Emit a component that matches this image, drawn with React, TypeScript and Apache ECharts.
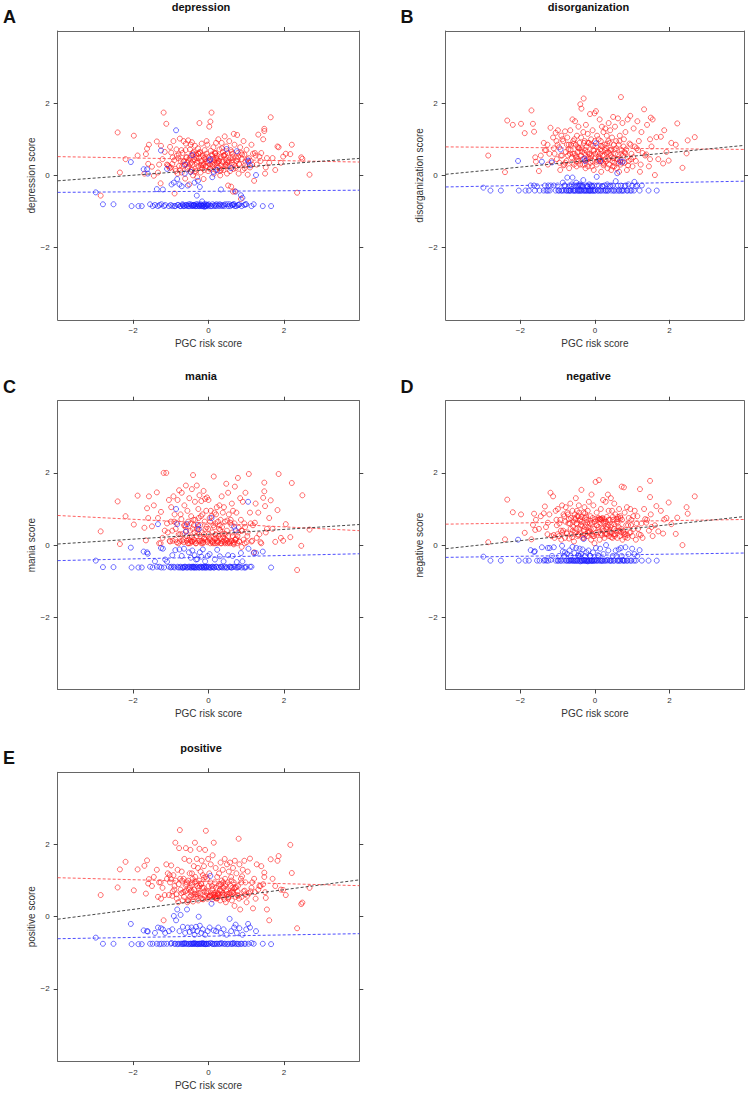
import React, { useEffect, useRef } from "react";
import * as echarts from "echarts";

// PGC risk score of the subjects drawn in red (same subjects in every panel)
const redX = [
  -2.86, -2.41, -2.35, -2.20, -1.98, -1.88, -1.70, -1.66, -1.63, -1.58, 2.68, 2.49, 2.46, 2.35, 2.21, 2.17, 1.98, 1.86, 1.83, 1.77,
  -1.50, -1.45, -1.37, -1.34, -1.27, -1.26, -1.19, -1.12, -1.08, -1.05, 1.65, 1.61, 1.55, 1.50, 1.48, 1.48, 1.45, 1.40, 1.32, 1.28,
  -1.02, -0.99, -0.96, -0.93, -0.90, -0.88, -0.85, -0.82, -0.80, -0.78, 1.25, 1.21, 1.18, 1.14, 1.10, 1.07, 1.04, 1.01, 0.98, 0.95,
  -0.76, -0.74, -0.71, -0.69, -0.66, -0.64, -0.62, -0.60, -0.58, -0.56, 0.93, 0.91, 0.88, 0.86, 0.84, 0.82, 0.80, 0.78, 0.76, 0.74,
  -0.54, -0.53, -0.51, -0.49, -0.48, -0.46, -0.44, -0.43, -0.41, -0.39, 0.72, 0.70, 0.69, 0.67, 0.65, 0.64, 0.62, 0.60, 0.59, 0.57,
  -0.38, -0.36, -0.35, -0.33, -0.31, -0.30, -0.28, -0.27, -0.25, -0.24, 0.55, 0.54, 0.52, 0.51, 0.49, 0.47, 0.46, 0.44, 0.43, 0.41,
  -0.22, -0.21, -0.19, -0.18, -0.16, -0.15, -0.13, -0.12, -0.10, -0.09, 0.40, 0.38, 0.37, 0.35, 0.34, 0.32, 0.31, 0.29, 0.28, 0.26,
  -0.07, -0.06, -0.04, -0.03, -0.01, 0.00, 0.02, 0.03, 0.05, 0.06, 0.25, 0.23, 0.22, 0.20, 0.19, 0.17, 0.16, 0.14, 0.13, 0.11,
  -1.10, -0.95, -0.87, -0.72, -0.57, -0.47, -0.37, -0.26, -0.17, -0.05, 0.08, 0.10, 0.18, 0.27, 0.36, 0.45, 0.58, 0.71, 0.87, 1.12,
  -1.22, -1.00, -0.79, -0.65, -0.52, -0.42, -0.32, -0.20, -0.11, 0.01, 0.09, 0.15, 0.21, 0.30, 0.39, 0.50, 0.63, 0.77, 0.97, 1.35,
  -1.31, -1.16, -1.03, -0.91, -0.84, -0.75, -0.67, -0.61, -0.55, -0.50, -0.45, -0.40, -0.34, -0.29, -0.23, -0.14, -0.08, 0.04, 0.12, 0.18,
  0.24, 0.33, 0.42, 0.48, 0.53, 0.61, 0.66, 0.73, 0.81, 0.89, 0.96, 1.03, 1.16, 1.23, 1.38, 1.52, 1.70, 1.92, 2.05, -1.60,
  -0.70, -0.59, -0.49, -0.44, -0.36, -0.27, -0.19, -0.12, -0.02, 0.04, 0.10, 0.17, 0.23, 0.31, 0.37, 0.44, 0.52, 0.62, 0.68, 0.79,
];

// PGC risk score of the subjects drawn in blue
const blueX = [
  -2.99, -2.80, -2.52, -2.06, -2.04, -1.86, -1.77, -1.72, -1.63, -1.61, -1.55, -1.42, -1.37, -1.34, -1.26, -1.25, -1.21, -1.15, -1.10, -1.05,
  -1.00, -0.96, -0.92, -0.88, -0.86, -0.83, -0.80, -0.77, -0.74, -0.71, -0.68, -0.65, -0.62, -0.60, -0.57, -0.55, -0.52, -0.50, -0.47, -0.45,
  -0.43, -0.41, -0.39, -0.37, -0.35, -0.33, -0.31, -0.30, -0.28, -0.26, -0.24, -0.23, -0.21, -0.19, -0.17, -0.15, -0.13, -0.11, -0.09, -0.07,
  -0.05, -0.02, 0.00, 0.03, 0.05, 0.08, 0.11, 0.14, 0.17, 0.20, 0.23, 0.26, 0.30, 0.33, 0.36, 0.40, 0.44, 0.48, 0.52, 0.56,
  0.60, 0.64, 0.68, 0.70, 0.72, 0.75, 0.78, 0.82, 0.86, 0.90, 0.95, 1.00, 1.05, 1.06, 1.10, 1.20, 1.26, 1.44, 1.66, -0.40,
  -1.48, -1.30, -1.18, -0.98, -0.90, -0.82, -0.75, -0.69, -0.63, -0.58, -0.53, -0.48, -0.44, -0.38, -0.34, -0.29, -0.25, -0.20, -0.16, -0.12,
  -0.08, -0.04, 0.01, 0.06, 0.10, 0.15, 0.21, 0.28, 0.34, 0.42, 0.50, 0.58, 0.62, 0.66, 0.74, 0.80, 0.88, 0.98, 1.14, -0.66,
];

const depressionRed = [
  -0.56, 1.19, 0.08, 0.45, 1.10, 0.55, 0.05, 0.59, 0.74, 0.85, 0.02, 0.46, 0.50, -0.48, 0.85, 0.59, 0.52, 0.78, 0.80, 0.15,
  0.24, -0.01, 0.94, 0.08, -0.22, 0.82, 1.74, 1.43, 0.28, 0.25, 1.61, 0.35, 0.48, 0.05, 1.29, 1.23, 1.00, 0.62, 1.13, 0.30,
  0.79, 0.63, 0.32, 0.95, -0.50, 0.18, 0.72, 0.05, 0.48, 0.26, 0.55, -0.15, 0.60, 0.85, 0.22, 0.48, 0.02, 0.71, 0.38, 0.58,
  1.02, 0.40, 0.08, 0.62, 0.95, 0.28, -0.09, 0.88, 0.50, 0.18, 0.95, 0.15, 0.45, -0.65, 0.78, 0.30, 0.05, 0.62, 1.12, 0.40,
  0.97, 0.42, -0.25, 0.72, 0.10, 0.55, 0.92, 0.30, 0.00, 0.65, 0.20, -0.44, 0.85, 1.15, -0.45, 0.50, 0.35, -0.31, 0.70, 0.12,
  0.45, 0.82, 0.18, 0.58, 0.35, -0.05, 0.75, 0.25, 0.48, 1.45, 0.95, 0.38, -0.28, 0.62, 0.05, 0.80, 0.42, 0.25, 1.08, 0.55,
  0.62, 0.08, 0.40, 0.88, 0.20, 0.55, -0.10, 0.32, 0.70, 0.45, 0.15, 0.65, 0.38, 0.90, 0.28, 0.52, 0.00, 0.72, 0.40, 1.00,
  0.25, 0.60, 0.38, 0.85, 0.12, 0.50, 1.35, 0.30, 1.49, 0.68, 0.22, 0.55, 0.35, 0.90, 0.15, 0.62, 0.42, 0.05, 0.78, 0.30,
  0.30, 0.50, 0.12, 0.70, 0.35, 0.85, 0.10, 0.60, 0.30, 0.95, 1.74, 0.25, 0.60, 0.40, 0.75, 0.30, 0.48, 0.25, 0.62, 0.40,
  0.45, 0.22, 0.58, 0.40, 0.25, 0.62, 0.48, 0.28, 0.15, 0.40, 0.58, 0.35, 0.48, 0.20, 0.55, 0.35, 0.60, 0.45, 0.28, 0.52,
  0.30, 0.65, 0.20, 0.42, 0.55, 0.15, 0.38, 0.70, 0.22, 0.48, 0.35, 0.58, 0.12, 0.40, 0.65, 0.28, 0.52, 0.18, 0.45, 0.62,
  0.35, 0.15, 0.55, 0.28, 0.42, 0.65, 0.18, 0.50, 0.32, 0.58, 0.20, 0.45, 0.30, 0.62, 0.40, 0.22, 0.48, 0.35, 0.60, 0.32,
  0.25, 0.50, 0.32, 0.15, 0.42, 0.60, 0.22, 0.48, 0.35, 0.20, 0.55, 0.30, 0.45, 0.12, 0.38, 0.58, 0.25, 0.42, 0.30, 0.52,
];
const disorganizationRed = [
  0.55, 0.09, 1.52, 1.40, 1.43, 1.17, 1.80, 1.43, 1.21, 0.38, 1.06, 0.97, 0.61, 0.21, 1.44, 0.85, 0.41, 1.25, 0.33, 1.07,
  0.12, 0.55, 0.90, 0.70, 0.85, 0.30, 1.32, 1.05, 0.60, 1.18, 1.06, 0.01, 1.55, 1.60, 0.45, 1.00, 0.25, 1.40, 1.83, 0.62,
  0.45, 1.25, 0.78, 0.15, 1.10, 0.55, 0.95, 0.30, 1.22, 0.65, 1.20, 0.10, 0.95, 1.50, 0.40, 0.80, 1.30, 0.25, 0.60, 1.65,
  0.40, 1.05, 0.72, 0.20, 1.25, 0.85, 0.50, 1.55, 0.95, 0.30, 0.88, 0.40, 1.55, 0.15, 0.72, 1.20, 0.35, 1.00, 0.55, 1.45,
  0.60, 1.50, 0.85, 0.25, 1.10, 0.65, 1.35, 0.40, 0.90, 1.97, 0.70, 2.17, 0.30, 1.10, 0.10, 0.85, 1.58, 0.45, 0.20, 0.95,
  0.55, 1.85, 0.75, 0.30, 1.20, 2.13, 0.62, 0.95, 0.20, 1.40, 0.60, 1.35, 0.25, 0.85, 1.62, 0.40, 1.05, 0.15, 0.70, 1.25,
  0.80, 0.45, 1.15, 0.25, 0.90, 0.60, 1.70, 0.35, 1.00, 0.55, 0.90, 0.30, 1.45, 0.65, 0.20, 1.10, 0.75, 0.45, 1.30, 0.85,
  0.40, 1.25, 0.70, 0.15, 1.72, 0.95, 0.50, 1.78, 0.30, 1.10, 0.55, 1.20, 0.35, 0.80, 1.35, 0.10, 0.95, 0.60, 1.55, 0.45,
  0.75, 0.35, 1.00, 0.55, 0.88, 0.45, 1.05, 0.70, 0.50, 0.82, 0.65, 1.00, 0.40, 0.70, 0.95, 0.50, 0.75, 0.60, 0.50, 0.75,
  0.60, 0.85, 0.35, 0.70, 0.55, 0.75, 0.45, 0.65, 0.85, 0.60, 0.40, 0.72, 0.55, 0.38, 0.62, 0.48, 0.35, 0.80, 0.45, 0.55,
  0.70, 0.40, 0.95, 0.55, 0.28, 0.85, 0.60, 0.35, 1.00, 0.50, 0.78, 0.30, 0.65, 0.90, 0.42, 0.58, 0.25, 0.80, 0.48, 0.68,
  0.32, 0.88, 0.55, 0.25, 0.72, 0.45, 0.95, 0.35, 0.62, 0.28, 0.85, 0.50, 0.70, 0.30, 0.58, 0.80, 0.45, 0.65, 0.90, 0.50,
  0.85, 0.60, 0.40, 0.75, 0.55, 0.30, 0.90, 0.48, 0.68, 0.38, 0.52, 0.82, 0.28, 0.62, 0.45, 0.72, 0.35, 0.58, 0.42, 0.65,
];
const maniaRed = [
  0.38, 1.21, 0.03, 0.80, 0.57, 1.37, 0.48, 0.13, 1.02, 1.35, 0.43, 1.38, -0.02, -0.69, 1.72, 0.22, 0.12, 1.97, 0.97, 0.09,
  0.52, 1.10, 1.46, 0.75, 0.05, 0.92, 2.00, 2.00, 0.35, 1.25, 1.24, 0.75, 0.45, 1.08, 1.73, 1.49, 1.31, 0.05, 0.90, 0.20,
  0.10, 1.05, 0.40, 1.35, 0.85, 0.15, 0.62, 1.25, 0.05, 1.52, 1.15, -0.20, 0.55, 0.10, 0.90, 1.97, 0.35, 0.08, 1.45, 0.60,
  0.10, 0.85, 1.45, 0.30, 0.08, 1.10, 0.55, 1.65, 0.12, 0.95, 0.15, 1.20, -0.05, 0.70, 1.30, 0.10, 0.48, 1.86, 0.05, 0.90,
  0.65, 0.05, 1.30, 0.40, 0.12, 0.80, 1.55, 0.10, 1.94, 0.55, 0.15, 1.62, 0.60, 0.02, 0.95, 0.25, 1.15, 0.10, 0.70, 0.05,
  0.15, 1.20, 0.70, 0.05, 1.65, 0.45, 0.12, 1.00, 0.30, 1.38, 0.10, 0.85, 1.45, 0.05, 0.40, 1.70, 0.15, 0.65, 0.08, 1.05,
  0.55, 0.10, 1.22, 0.35, 0.85, 0.05, 1.50, 0.20, 0.65, 1.28, 0.12, 0.90, 0.30, 1.35, 0.05, 0.70, 0.18, 1.10, 0.45, 0.08,
  0.15, 0.95, 1.32, 0.08, 0.45, 1.25, 0.20, 0.75, 0.05, 0.95, 0.65, 0.12, 1.05, 0.85, 0.30, 0.05, 0.90, 1.90, 0.55, 0.10,
  0.60, 0.12, 0.45, 0.72, 0.25, 0.60, 0.35, 0.75, 0.12, 0.50, 0.80, 0.35, 0.60, 0.25, 0.50, 0.30, 0.62, 0.15, 0.40, 0.60,
  0.20, 0.65, 0.30, 0.55, 0.15, 0.45, 0.25, 0.80, 0.18, 0.30, 0.12, 0.50, 0.20, 0.55, 0.22, 0.68, 0.35, 0.25, 0.50, 0.30,
  0.05, 0.40, 0.12, 0.65, 0.08, 0.30, 0.15, 0.50, 0.05, 0.22, 0.10, 0.70, 0.05, 0.35, 0.12, 0.08, 0.45, 0.15, 0.05, 0.28,
  0.10, 0.05, 0.32, 0.12, 0.08, 0.55, 0.05, 0.18, 0.10, 0.40, 0.05, 0.25, 0.12, 0.62, 0.08, 0.35, 0.45, 0.20, 0.58, 0.75,
  0.12, 0.40, 0.05, 0.22, 0.10, 0.52, 0.05, 0.30, 0.12, 0.65, 0.08, 0.18, 0.05, 0.42, 0.10, 0.05, 0.25, 0.12, 0.08, 0.35,
];
const negativeRed = [
  0.08, 0.16, 1.26, 0.91, 0.85, 0.34, 0.16, 0.56, 0.87, 0.70, 1.35, 0.87, 1.05, 0.00, 0.76, 0.31, 1.18, 0.71, 0.32, 0.95,
  0.45, 0.80, 0.88, 1.07, 0.30, 0.62, 1.45, 1.35, 0.20, 0.95, 1.08, 0.55, 0.25, 0.85, 1.78, 1.33, 0.40, 0.70, 1.00, 0.20,
  0.55, 1.00, 0.25, 0.70, 0.15, 1.10, 0.40, 0.80, 0.20, 1.05, 0.60, 1.55, 0.30, 0.80, 0.15, 0.95, 0.45, 0.25, 0.70, 1.00,
  0.35, 0.90, 0.60, 0.18, 1.15, 0.75, 0.30, 0.95, 0.50, 0.10, 0.35, 0.75, 0.20, 1.05, 0.55, 0.30, 0.90, 1.60, 0.40, 0.15,
  0.85, 0.35, 1.30, 0.60, 0.95, 0.25, 0.80, 1.10, 0.45, 0.72, 1.62, 0.35, 0.75, 0.25, 1.00, 0.50, 0.78, 0.20, 0.65, 0.40,
  0.35, 1.53, 0.65, 0.20, 0.90, 0.40, 1.05, 0.75, 0.30, 0.55, 0.85, 0.30, 1.15, 0.45, 0.70, 0.20, 0.95, 0.55, 1.30, 0.35,
  0.70, 0.25, 0.95, 0.50, 1.20, 0.35, 0.60, 0.80, 0.15, 1.40, 0.70, 0.25, 0.95, 1.40, 0.50, 0.78, 0.30, 1.20, 0.60, 0.20,
  0.30, 0.75, 1.10, 0.45, 0.05, 0.65, 1.75, 0.35, 0.90, 0.55, 0.72, 0.40, 1.25, 0.75, 0.28, 0.70, 1.00, 0.72, 0.15, 1.80,
  0.28, 0.60, 0.35, 0.85, 0.65, 0.80, 0.55, 0.88, 0.40, 0.25, 0.70, 0.50, 0.72, 0.30, 0.55, 0.35, 0.72, 0.45, 0.28, 0.60,
  0.85, 0.30, 0.65, 0.45, 0.72, 0.90, 0.28, 0.62, 0.45, 0.72, 0.35, 0.72, 0.45, 0.65, 0.40, 0.30, 0.72, 0.35, 0.55, 0.72,
  0.50, 0.25, 0.70, 0.40, 0.85, 0.32, 0.60, 0.22, 0.75, 0.45, 0.30, 0.68, 0.52, 0.20, 0.78, 0.38, 0.62, 0.28, 0.72, 0.48,
  0.65, 0.32, 0.50, 0.78, 0.25, 0.60, 0.40, 0.70, 0.22, 0.55, 0.35, 0.80, 0.45, 0.28, 0.62, 0.50, 0.38, 0.75, 0.58, 0.42,
  0.72, 0.40, 0.60, 0.28, 0.78, 0.50, 0.35, 0.68, 0.25, 0.55, 0.75, 0.32, 0.62, 0.45, 0.70, 0.22, 0.58, 0.40, 0.80, 0.30,
];
const positiveRed = [
  0.60, 0.81, 1.31, 1.52, 0.73, 1.31, 1.41, 0.64, 1.56, 1.04, 0.80, 0.39, 0.35, -0.32, 1.21, 1.99, 0.74, 1.68, 1.55, 0.85,
  0.85, 1.10, 1.30, 0.55, 0.95, 0.50, -0.10, 1.45, 1.20, 0.60, 1.59, -0.10, 0.20, 0.68, 1.22, 1.10, 0.90, 1.40, 0.75, 1.45,
  0.95, 1.42, 0.58, 1.15, 0.85, 2.05, 0.62, 1.30, 0.40, 1.90, 0.50, 1.05, 0.23, 0.80, 1.61, 0.65, 1.25, 0.40, 0.95, 1.55,
  2.40, 0.75, 1.25, 0.45, 1.05, 1.60, 0.70, 1.90, 0.90, 0.40, 0.70, 1.30, 0.55, 1.05, 0.20, 1.45, 2.16, 0.85, 0.60, 1.20,
  1.00, 0.45, 1.55, 0.80, 1.85, 0.60, 1.20, 0.95, 0.42, 1.40, 0.55, 1.55, 0.30, 0.95, 1.35, 0.70, 0.45, 1.10, 0.85, 1.50,
  0.75, 2.05, 1.10, 0.55, 1.60, 0.85, 1.35, 0.45, 1.00, 1.88, 0.65, 1.25, 0.50, 0.95, 1.45, 0.75, 0.40, 1.05, 1.60, 0.60,
  0.65, 1.25, 0.90, 1.55, 0.50, 1.15, 0.80, 1.40, 0.55, 1.85, 0.80, 1.30, 0.55, 1.00, 0.70, 1.50, 0.45, 0.90, 1.20, 0.60,
  2.38, 0.70, 1.05, 0.50, 1.60, 0.85, 1.20, 0.55, 0.95, 1.45, 0.65, 1.10, 0.50, 0.80, 1.35, 0.55, 0.95, 2.05, 0.60, 1.70,
  1.05, 0.70, 1.00, 0.65, 0.95, 0.70, 0.95, 0.65, 0.80, 0.65, 0.60, 0.75, 0.62, 0.85, 0.60, 0.90, 0.65, 0.80, 0.95, 0.70,
  0.80, 1.05, 0.90, 0.55, 0.75, 1.05, 0.62, 0.92, 0.70, 0.55, 0.85, 0.65, 0.58, 0.72, 0.95, 0.62, 0.80, 0.70, 0.62, 0.85,
  0.95, 0.60, 1.15, 0.75, 0.50, 1.05, 0.68, 0.88, 0.45, 1.20, 0.72, 0.55, 0.98, 0.62, 0.85, 0.48, 1.10, 0.58, 0.78, 0.52,
  0.62, 0.90, 0.48, 0.70, 0.55, 1.00, 0.65, 0.82, 0.50, 1.12, 0.72, 0.58, 0.95, 0.68, 0.85, 0.52, 1.05, 0.75, 0.60, 0.92,
  1.00, 0.72, 0.55, 0.88, 0.62, 0.80, 0.50, 1.08, 0.70, 0.58, 0.48, 0.60, 0.52, 0.75, 0.65, 0.85, 0.55, 0.68, 0.78, 0.58,
];

const depressionBlue = [
  -0.47, -0.80, -0.80, 0.37, -0.85, -0.85, -0.85, 0.17, 0.17, 0.05, -0.80, -0.82, -0.38, -0.85, 0.69, -0.80, -0.39, -0.82, 0.18, -0.85,
  -0.82, -0.85, -0.20, -0.85, 1.25, -0.10, -0.82, -0.25, -0.85, -0.30, -0.82, -0.85, 0.30, -0.82, -0.85, -0.28, -0.80, -0.85, 0.10, -0.82,
  0.56, -0.85, -0.82, -0.20, -0.85, -0.80, -0.56, -0.85, -0.15, -0.82, -0.85, -0.32, -0.80, -0.85, -0.72, -0.85, -0.82, -0.87, -0.85, -0.80,
  -0.85, -0.82, -0.85, 0.42, 0.45, -0.85, -0.80, 0.10, -0.82, -0.85, 0.15, -0.82, -0.80, -0.39, -0.85, -0.82, -0.80, 0.73, -0.85, -0.80,
  0.20, -0.82, -0.80, -0.85, -0.45, 0.67, -0.82, -0.80, -0.55, -0.62, -0.82, -0.80, 0.41, 0.38, 0.28, -0.80, 0.01, -0.85, -0.85, -0.82,
  -0.85, -0.82, -0.85, -0.25, -0.85, -0.82, -0.85, -0.80, 0.05, -0.82, -0.85, -0.80, -0.85, -0.82, -0.85, -0.80, -0.85, -0.82, -0.85, -0.80,
  -0.85, -0.82, -0.80, -0.85, -0.05, -0.85, -0.80, -0.85, -0.82, -0.85, -0.80, -0.85, -0.82, -0.80, -0.85, -0.82, -0.85, -0.80, -0.85, -0.85,
];
const disorganizationBlue = [
  -0.34, -0.42, -0.42, 0.40, -0.42, -0.42, -0.42, -0.28, -0.28, -0.42, -0.30, 0.38, -0.42, -0.28, -0.42, -0.28, -0.42, 0.36, -0.28, -0.42,
  -0.28, -0.42, 0.72, -0.42, -0.20, -0.42, -0.28, -0.42, -0.06, -0.42, -0.28, -0.42, -0.25, -0.06, -0.42, -0.28, -0.42, -0.20, -0.42, -0.28,
  -0.42, -0.25, -0.42, -0.28, -0.42, -0.30, -0.13, -0.42, 0.46, 0.40, -0.42, -0.28, -0.42, -0.30, -0.42, -0.25, -0.42, -0.28, -0.42, -0.30,
  -0.42, -0.28, -0.42, 0.89, -0.04, -0.42, -0.28, 0.40, -0.42, -0.30, -0.42, -0.28, -0.42, -0.25, -0.42, -0.30, -0.42, -0.28, -0.42, -0.16,
  0.06, -0.42, 0.38, -0.28, -0.42, 0.38, -0.42, -0.28, -0.42, -0.25, -0.42, -0.28, -0.42, -0.18, -0.30, -0.42, -0.28, -0.42, -0.42, -0.28,
  -0.42, -0.42, -0.28, -0.42, -0.42, -0.28, -0.42, -0.42, -0.30, -0.42, -0.42, -0.28, -0.42, -0.42, -0.28, -0.42, -0.42, -0.30, -0.42, -0.42,
  -0.28, -0.42, -0.42, -0.28, -0.42, -0.42, -0.30, -0.42, -0.42, -0.28, -0.42, -0.42, -0.28, -0.42, -0.42, -0.30, -0.42, -0.42, -0.28, -0.42,
];
const maniaBlue = [
  -0.43, -0.61, -0.61, -0.07, -0.62, -0.62, -0.62, -0.18, -0.20, -0.24, -0.60, -0.45, -0.60, 0.58, -0.08, -0.62, -0.10, -0.40, -0.46, -0.60,
  -0.62, -0.28, -0.60, -0.14, 1.00, 0.58, -0.62, -0.12, -0.60, -0.30, -0.62, -0.10, -0.60, 0.37, 0.58, -0.62, -0.20, -0.60, -0.35, -0.62,
  -0.15, -0.60, -0.62, -0.28, -0.60, -0.40, -0.62, -0.39, 0.56, 0.44, -0.62, -0.20, -0.60, -0.32, -0.62, -0.12, -0.60, -0.62, -0.45, -0.60,
  -0.62, -0.30, -0.60, -0.25, -0.62, 0.75, -0.60, -0.62, -0.40, -0.60, -0.13, -0.62, -0.31, -0.60, -0.62, -0.45, -0.60, -0.62, -0.28, -0.60,
  -0.62, -0.30, 0.51, -0.60, 0.41, -0.47, -0.62, -0.60, -0.22, -0.45, -0.62, -0.60, 1.20, -0.10, -0.60, -0.22, -0.22, -0.18, -0.62, -0.60,
  -0.62, -0.60, -0.62, -0.60, -0.62, -0.60, -0.62, -0.62, -0.60, -0.62, -0.60, -0.62, -0.60, -0.62, -0.62, -0.60, -0.62, -0.60, -0.62, -0.60,
  -0.62, -0.60, -0.62, -0.62, -0.60, -0.62, -0.60, -0.62, -0.60, -0.62, -0.62, -0.60, -0.62, -0.60, -0.62, -0.60, -0.62, -0.62, -0.60, -0.62,
];
const negativeBlue = [
  -0.32, -0.43, -0.43, 0.15, -0.43, -0.43, -0.43, -0.14, -0.19, -0.17, -0.43, -0.06, -0.43, -0.41, -0.08, -0.43, -0.08, -0.30, -0.06, -0.43,
  -0.43, -0.30, -0.43, -0.02, -0.18, -0.43, -0.20, -0.43, -0.25, -0.43, -0.15, -0.30, -0.43, -0.05, -0.43, -0.22, -0.43, -0.08, -0.43, -0.28,
  -0.43, -0.10, -0.45, -0.25, -0.43, -0.12, -0.43, 0.17, -0.43, -0.30, -0.43, -0.20, -0.43, -0.45, -0.15, -0.43, -0.30, -0.43, -0.43, -0.43,
  -0.20, -0.43, -0.43, -0.08, -0.43, -0.28, -0.43, -0.10, -0.43, -0.43, -0.25, -0.43, 0.00, -0.43, -0.15, -0.43, -0.43, -0.30, -0.43, -0.15,
  -0.43, -0.12, -0.43, -0.08, -0.30, -0.43, -0.43, -0.06, -0.43, -0.25, -0.43, -0.10, -0.43, -0.25, -0.43, -0.14, -0.43, -0.43, -0.43, -0.30,
  -0.43, -0.43, -0.41, -0.43, -0.43, -0.30, -0.43, -0.43, -0.41, -0.43, -0.43, -0.43, -0.30, -0.43, -0.43, -0.41, -0.43, -0.43, -0.43, -0.30,
  -0.43, -0.43, -0.41, -0.43, -0.30, -0.43, -0.43, -0.43, -0.41, -0.43, -0.43, -0.30, -0.43, -0.43, -0.41, -0.43, -0.43, -0.43, -0.30, -0.43,
];
const positiveBlue = [
  -0.58, -0.75, -0.75, -0.20, -0.76, -0.76, -0.76, -0.38, -0.40, -0.41, -0.75, -0.45, -0.75, -0.30, -0.32, -0.75, -0.35, -0.45, -0.75, -0.40,
  -0.75, -0.35, 0.02, -0.75, -0.10, 0.20, -0.75, -0.40, 0.05, -0.75, -0.28, -0.75, -0.45, -0.75, 0.20, -0.30, -0.75, -0.42, -0.75, -0.30,
  -0.75, -0.38, -0.75, -0.50, -0.75, -0.28, -0.75, -0.40, -0.75, 0.00, -0.75, -0.25, -0.75, -0.45, -0.75, -0.35, -0.75, -0.75, -0.50, -0.75,
  -0.75, -0.40, -0.75, -0.30, 1.13, 0.36, -0.75, -0.38, -0.75, -0.40, -0.75, -0.30, -0.75, -0.45, -0.75, -0.35, -0.75, -0.50, -0.75, -0.06,
  -0.40, -0.75, -0.30, -0.75, -0.22, -0.45, -0.75, -0.32, -0.75, -0.50, -0.75, -0.35, -0.20, -0.75, -0.30, -0.75, -0.40, -0.75, -0.76, -0.75,
  -0.75, -0.76, -0.75, -0.73, -0.75, -0.76, -0.75, -0.75, -0.73, -0.75, -0.76, -0.75, -0.75, -0.73, -0.75, -0.76, -0.75, -0.75, -0.73, -0.75,
  -0.76, -0.75, -0.75, -0.73, -0.75, -0.76, -0.75, -0.75, -0.73, -0.75, -0.76, -0.75, -0.75, -0.73, -0.75, -0.76, -0.75, -0.75, -0.73, -0.75,
];

// fitted lines: value at x = lineX[0] and x = lineX[1]
const lineX = [-4, 4];
const depressionRedLine = [0.52, 0.37];
const depressionBlueLine = [-0.47, -0.41];
const depressionAllLine = [-0.15, 0.47];
const disorganizationRedLine = [0.79, 0.72];
const disorganizationBlueLine = [-0.32, -0.16];
const disorganizationAllLine = [0.03, 0.83];
const maniaRedLine = [0.82, 0.40];
const maniaBlueLine = [-0.43, -0.24];
const maniaAllLine = [0.03, 0.57];
const negativeRedLine = [0.58, 0.71];
const negativeBlueLine = [-0.34, -0.22];
const negativeAllLine = [-0.10, 0.79];
const positiveRedLine = [1.08, 0.86];
const positiveBlueLine = [-0.61, -0.47];
const positiveAllLine = [-0.07, 1.02];

const tickValues = [-2, 0, 2];
const xLabel = "PGC risk score";

const panels = [
  { letter: "A", title: "depression", red: depressionRed, blue: depressionBlue, lr: depressionRedLine, lb: depressionBlueLine, la: depressionAllLine, col: 0, row: 0 },
  { letter: "B", title: "disorganization", red: disorganizationRed, blue: disorganizationBlue, lr: disorganizationRedLine, lb: disorganizationBlueLine, la: disorganizationAllLine, col: 1, row: 0 },
  { letter: "C", title: "mania", red: maniaRed, blue: maniaBlue, lr: maniaRedLine, lb: maniaBlueLine, la: maniaAllLine, col: 0, row: 1 },
  { letter: "D", title: "negative", red: negativeRed, blue: negativeBlue, lr: negativeRedLine, lb: negativeBlueLine, la: negativeAllLine, col: 1, row: 1 },
  { letter: "E", title: "positive", red: positiveRed, blue: positiveBlue, lr: positiveRedLine, lb: positiveBlueLine, la: positiveAllLine, col: 0, row: 2 },
];

const colLeft = [57.7, 445.7];
const rowTop = [31, 400.7, 772.3];
const plotW = 301.6;
const plotH = 288.8;
const titleCenter = [201, 588.5];
const FONT = "'Liberation Sans', Arial, Helvetica, sans-serif";
const FRAME = "#666";

const fmt = (v: number) => (v < 0 ? "\u2212" + Math.abs(v) : String(v));

function buildOption() {
  const grid: any[] = [];
  const xAxis: any[] = [];
  const yAxis: any[] = [];
  const series: any[] = [];
  const title: any[] = [];

  panels.forEach((p, i) => {
    const left = colLeft[p.col];
    const top = rowTop[p.row];
    grid.push({ left, top, width: plotW, height: plotH, show: false });

    const axisLine = { show: true, onZero: false, lineStyle: { color: FRAME, width: 1 } };
    const tickStyle = { show: true, inside: false, length: 4, lineStyle: { color: "#444", width: 1 }, customValues: tickValues };
    xAxis.push({
      gridIndex: i, type: "value", position: "bottom", min: -4, max: 4, interval: 2,
      splitLine: { show: false }, axisLine,
      axisTick: tickStyle,
      axisLabel: { customValues: tickValues, formatter: fmt, fontSize: 8, color: "#333", margin: 7, fontFamily: FONT },
      name: xLabel, nameLocation: "middle", nameGap: 19,
      nameTextStyle: { fontSize: 10, color: "#333", fontFamily: FONT },
    });
    xAxis.push({
      gridIndex: i, type: "value", position: "top", min: -4, max: 4, interval: 2,
      splitLine: { show: false }, axisLine,
      axisTick: tickStyle,
      axisLabel: { show: true, customValues: tickValues, formatter: () => "", fontSize: 8 },
    });
    yAxis.push({
      gridIndex: i, type: "value", position: "left", min: -4, max: 4, interval: 2,
      splitLine: { show: false }, axisLine,
      axisTick: tickStyle,
      axisLabel: { customValues: tickValues, formatter: fmt, fontSize: 8, color: "#333", margin: 8, fontFamily: FONT },
      name: p.title + " score", nameLocation: "middle", nameRotate: 90, nameGap: 21,
      nameTextStyle: { fontSize: 10, color: "#333", fontFamily: FONT },
    });
    yAxis.push({
      gridIndex: i, type: "value", position: "right", min: -4, max: 4, interval: 2,
      splitLine: { show: false }, axisLine,
      axisTick: tickStyle,
      axisLabel: { show: true, customValues: tickValues, formatter: () => "", fontSize: 8 },
    });

    const xi = 2 * i;
    const yi = 2 * i;
    series.push({
      type: "scatter", xAxisIndex: xi, yAxisIndex: yi, symbol: "circle", symbolSize: 5,
      itemStyle: { color: "transparent", borderColor: "#ff1a1a", borderWidth: 0.8 },
      data: redX.map((x, k) => [x, p.red[k]]), silent: true, z: 2,
    });
    series.push({
      type: "scatter", xAxisIndex: xi, yAxisIndex: yi, symbol: "circle", symbolSize: 5,
      itemStyle: { color: "transparent", borderColor: "#1a1aff", borderWidth: 0.8 },
      data: blueX.map((x, k) => [x, p.blue[k]]), silent: true, z: 3,
    });
    const mkLine = (vals: number[], color: string) => ({
      type: "line", xAxisIndex: xi, yAxisIndex: yi, showSymbol: false, symbol: "none", silent: true, z: 4,
      lineStyle: { color, width: 0.9, type: [3, 2] },
      data: lineX.map((x, k) => [x, vals[k]]),
    });
    series.push(mkLine(p.lr, "#ff4d4d"));
    series.push(mkLine(p.lb, "#3a3aff"));
    series.push(mkLine(p.la, "#333333"));

    title.push({
      text: p.title, left: titleCenter[p.col], top: top - 30, textAlign: "center", padding: 0,
      textStyle: { fontSize: 11, fontWeight: "bold", color: "#111", fontFamily: FONT },
    });
    title.push({
      text: p.letter, left: p.col === 0 ? 3 : 400.5, top: top - 23, padding: 0,
      textStyle: { fontSize: 18, fontWeight: "bold", color: "#111", fontFamily: FONT },
    });
  });

  return { animation: false, backgroundColor: "#fff", textStyle: { fontFamily: FONT }, title, grid, xAxis, yAxis, series };
}

export default function App() {
  const ref = useRef<HTMLDivElement>(null);
  useEffect(() => {
    if (!ref.current) return;
    const chart = echarts.init(ref.current, null, { renderer: "svg" });
    chart.setOption(buildOption());
    return () => chart.dispose();
  }, []);
  return <div ref={ref} style={{ position: "absolute", left: 0, top: 0, width: 755, height: 1093, background: "#fff" }} />;
}
